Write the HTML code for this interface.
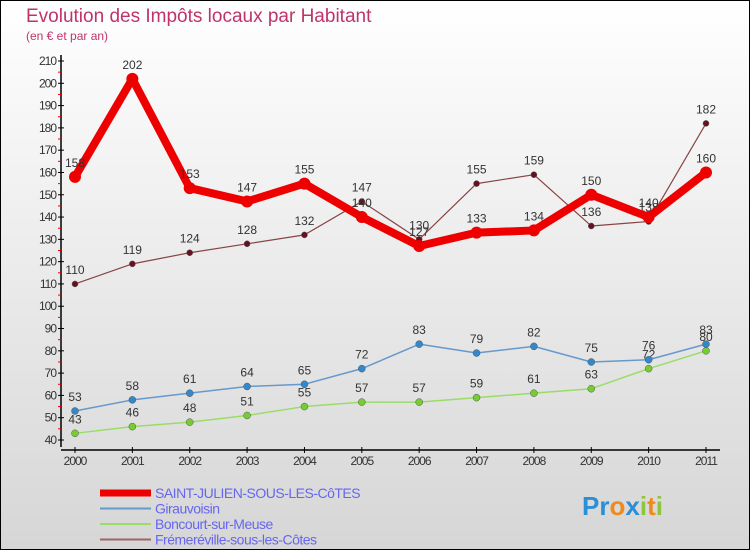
<!DOCTYPE html>
<html><head><meta charset="utf-8"><style>
body{margin:0}
#c{width:750px;height:550px;position:relative;font-family:"Liberation Sans",sans-serif}
</style></head><body>
<div id="c">
<svg id="s" width="750" height="550" xmlns="http://www.w3.org/2000/svg">
<defs><linearGradient id="bg" x1="0" y1="0" x2="0" y2="1"><stop offset="0" stop-color="#ffffff"/><stop offset="1" stop-color="#d6d6d6"/></linearGradient></defs>
<rect x="0.5" y="0.5" width="749" height="549" fill="url(#bg)" stroke="#000"/>
<text x="26" y="22" font-size="19" fill="#c0336a">Evolution des Impôts locaux par Habitant</text>
<text x="26" y="40" font-size="12" fill="#c0336a">(en € et par an)</text>
<g id="axes"></g>
<g id="series"></g>
<g id="legend"></g>
<text x="582" y="515" font-size="26" font-weight="bold"><tspan fill="#2a8fd8">Pr</tspan><tspan fill="#f08a1c">o</tspan><tspan fill="#2a8fd8">x</tspan><tspan fill="#8cc63f">i</tspan><tspan fill="#f08a1c">t</tspan><tspan fill="#8cc63f">i</tspan></text>
</svg>
</div>
<script>
const years=["2000","2001","2002","2003","2004","2005","2006","2007","2008","2009","2010","2011"];
const yTicks=[40,50,60,70,80,90,100,110,120,130,140,150,160,170,180,190,200,210];
const saintJulien=[158,202,153,147,155,140,127,133,134,150,140,160];
const girauvoisin=[53,58,61,64,65,72,83,79,82,75,76,83];
const boncourt=[43,46,48,51,55,57,57,59,61,63,72,80];
const fremereville=[110,119,124,128,132,147,130,155,159,136,138,182];
const NS="http://www.w3.org/2000/svg";
function X(i){return 75+i*(706-75)/11;}
function Y(v){return 440-(v-40)*(440-61)/170;}
function mk(tag,attrs,parent){const e=document.createElementNS(NS,tag);for(const k in attrs)e.setAttribute(k,attrs[k]);parent.appendChild(e);return e;}
const ax=document.getElementById('axes');
let l=mk('line',{x1:61,y1:55,x2:61,y2:447,stroke:'#000','stroke-width':1.5},ax);


l=mk('line',{x1:61,y1:450,x2:720,y2:450,stroke:'#000','stroke-width':1.5},ax);


yTicks.forEach((v,i)=>{
 mk('line',{x1:58,y1:Y(v),x2:64,y2:Y(v),stroke:'#000'},ax);
 if(i<yTicks.length-1)mk('line',{x1:58,y1:Y(v+5),x2:61,y2:Y(v+5),stroke:'#e00'},ax);
 const t=mk('text',{x:56,y:Y(v)+4,'font-size':12,'text-anchor':'end',fill:'#333','letter-spacing':'-1'},ax);
 t.textContent=v;
 
 
});
years.forEach((y,i)=>{
 mk('line',{x1:X(i),y1:447,x2:X(i),y2:453,stroke:'#000'},ax);
 const t=mk('text',{x:X(i),y:465,'font-size':12,'text-anchor':'middle',fill:'#333','letter-spacing':'-1'},ax);
 t.textContent=y;
 
 
});
const sg=document.getElementById('series');
function draw(data,color,w,r,name,dot){
 const g=mk('g',{},sg);
 
 
 mk('polyline',{points:data.map((v,i)=>X(i)+','+Y(v)).join(' '),fill:'none',stroke:color,'stroke-width':w,'stroke-linejoin':'round'},g);
 data.forEach((v,i)=>{
  const c=mk('circle',{cx:X(i),cy:Y(v),r:r,fill:dot,stroke:w>3?'none':'#555','stroke-width':0.5},g);
  
  
  const t=mk('text',{x:X(i),y:Y(v)-10,'font-size':12,'text-anchor':'middle',fill:'#333'},g);
  t.textContent=v;
  
  
 });
}
draw(boncourt,'#99dd66',1.5,3.5,'series-boncourt','#77cc33');
draw(girauvoisin,'#6699cc',1.5,3.5,'series-girauvoisin','#3388cc');
draw(fremereville,'#884444',1.2,3,'series-fremereville','#661122');
draw(saintJulien,'#ee0000',8,6,'series-saint-julien','#ee0000');
const lg=document.getElementById('legend');
const leg=[["SAINT-JULIEN-SOUS-LES-CôTES","#ee0000",7],["Girauvoisin","#6699cc",2],["Boncourt-sur-Meuse","#99dd66",2],["Frémeréville-sous-les-Côtes","#996666",2]];
leg.forEach((d,i)=>{
 const g=mk('g',{},lg);
 
 
 const y=493+i*15.5;
 mk('line',{x1:100,y1:y,x2:151,y2:y,stroke:d[1],'stroke-width':d[2]},g);
 const t=mk('text',{x:155,y:y+5,'font-size':14,fill:'#6666ee','letter-spacing':'-0.5'},g);
 t.textContent=d[0];
});
</script>
</body></html>
